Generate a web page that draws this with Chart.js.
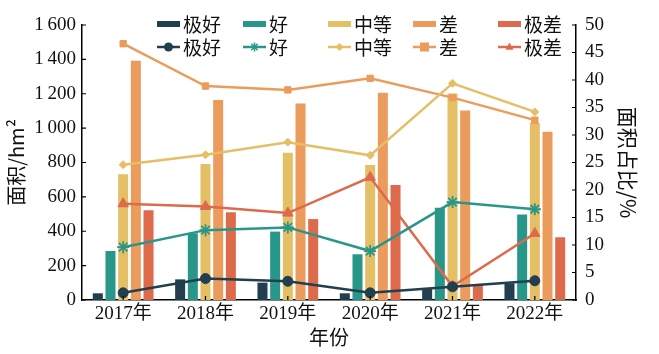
<!DOCTYPE html>
<html><head><meta charset="utf-8">
<script src="https://cdn.jsdelivr.net/npm/chart.js@4/dist/chart.umd.min.js"></script>
<style>html,body{margin:0;padding:0;background:#fff}#wrap{width:659px;height:354px}</style>
</head><body><div id="wrap"><canvas id="c" width="659" height="354"></canvas></div>
<script>
const years = ['2017年','2018年','2019年','2020年','2021年','2022年'];
const levelNames = ['极好','好','中等','差','极差'];
const areaJihao = [39,120,101,39,68,97];
const areaHao = [285,388,398,266,537,498];
const areaZhongdeng = [731,791,857,785,1202,1030];
const areaCha = [1392,1164,1144,1206,1102,979];
const areaJicha = [522,510,471,669,87,365];
const shareJihao = [1.3,3.9,3.4,1.3,2.4,3.5];
const shareHao = [9.6,12.7,13.2,8.9,17.8,16.5];
const shareZhongdeng = [24.6,26.4,28.7,26.3,39.4,34.2];
const shareCha = [46.6,38.9,38.2,40.3,36.8,32.7];
const shareJicha = [17.5,17.0,15.8,22.3,2.5,12.1];
const leftTicks = [0,200,400,600,800,1000,1200,1400,1600];
const rightTicks = [0,5,10,15,20,25,30,35,40,45,50];

const colors = ['#213f4f','#28978a','#e4bf66','#eb9c5c','#de6a4c'];
const areas = [areaJihao,areaHao,areaZhongdeng,areaCha,areaJicha];
const shares = [shareJihao,shareHao,shareZhongdeng,shareCha,shareJicha];
const pStyles = ['circle','star','rectRot','rect','triangle'];
const pRadius = [5,6,4,4.5,6];

const serif = '"Liberation Serif","Noto Sans CJK SC",serif';
const datasets = [];
areas.forEach((a,i)=>datasets.push({type:'bar',label:levelNames[i],data:a,backgroundColor:colors[i],yAxisID:'y',order:2,categoryPercentage:0.77,barPercentage:0.79}));
shares.forEach((s,i)=>datasets.push({type:'line',label:levelNames[i],data:s,borderColor:colors[i],backgroundColor:colors[i],pointBackgroundColor:colors[i],pointBorderColor:colors[i],borderWidth:2.5,pointStyle:pStyles[i],pointRadius:pRadius[i],pointBorderWidth:i===1?1.8:1,yAxisID:'y1',order:1,tension:0}));

function fmt(v){return String(v).replace(/\B(?=(\d{3})+$)/,'\u2009');}

const inwardTicks = {
  id:'inwardTicks',
  afterDraw(chart){
    const ctx=chart.ctx, a=chart.chartArea;
    ctx.save();ctx.strokeStyle='#000';ctx.lineWidth=1.2;
    const y=chart.scales.y, y1=chart.scales.y1, x=chart.scales.x;
    ctx.beginPath();
    leftTicks.forEach(v=>{const p=y.getPixelForValue(v);ctx.moveTo(a.left,p);ctx.lineTo(a.left+4,p);});
    rightTicks.forEach(v=>{const p=y1.getPixelForValue(v);ctx.moveTo(a.right,p);ctx.lineTo(a.right-4,p);});
    years.forEach((c,i)=>{const p=x.getPixelForValue(i);ctx.moveTo(p,a.bottom);ctx.lineTo(p,a.bottom-4);});
    ctx.stroke();ctx.restore();
  }
};

function drawMarker(ctx,style,x,y,r,color){
  ctx.save();ctx.fillStyle=color;ctx.strokeStyle=color;ctx.lineWidth=1.5;
  ctx.beginPath();
  if(style==='circle'){ctx.arc(x,y,r,0,Math.PI*2);ctx.fill();}
  else if(style==='rect'){ctx.fillRect(x-r,y-r,2*r,2*r);}
  else if(style==='rectRot'){ctx.moveTo(x,y-r);ctx.lineTo(x+r,y);ctx.lineTo(x,y+r);ctx.lineTo(x-r,y);ctx.closePath();ctx.fill();}
  else if(style==='triangle'){ctx.moveTo(x,y-r);ctx.lineTo(x+r*0.9,y+r*0.6);ctx.lineTo(x-r*0.9,y+r*0.6);ctx.closePath();ctx.fill();}
  else if(style==='star'){for(let k=0;k<4;k++){const t=k*Math.PI/4;ctx.moveTo(x-r*Math.cos(t),y-r*Math.sin(t));ctx.lineTo(x+r*Math.cos(t),y+r*Math.sin(t));}ctx.stroke();}
  ctx.restore();
}

const customLegend = {
  id:'customLegend',
  afterDraw(chart){
    const ctx=chart.ctx;
    const colX=[157,243,328,413,498];
    const row1=24, row2=47;
    ctx.save();
    ctx.font='19px "Noto Sans CJK SC",sans-serif';
    ctx.textBaseline='middle';ctx.fillStyle='#111';
    levelNames.forEach((n,i)=>{
      ctx.fillStyle=colors[i];
      ctx.fillRect(colX[i],row1-3,23,6);
      ctx.strokeStyle=colors[i];ctx.lineWidth=2.5;
      ctx.beginPath();ctx.moveTo(colX[i],row2);ctx.lineTo(colX[i]+23,row2);ctx.stroke();
      drawMarker(ctx,pStyles[i],colX[i]+11.5,row2,Math.min(pRadius[i],4.5),colors[i]);
      ctx.fillStyle='#111';
      ctx.fillText(n,colX[i]+26,row1+1);
      ctx.fillText(n,colX[i]+26,row2+1);
    });
    ctx.restore();
  }
};

new Chart(document.getElementById('c'),{
  data:{labels:years,datasets},
  options:{
    responsive:false,animation:false,
    layout:{padding:{top:25,left:0,right:0,bottom:0}},
    plugins:{legend:{display:false},tooltip:{enabled:false}},
    scales:{
      x:{
        grid:{display:false,drawTicks:false},
        border:{display:true,color:'#000',width:1.5},
        ticks:{font:{family:serif,size:19},color:'#111',padding:3,maxRotation:0},
        title:{display:true,text:'年份',font:{family:'"Noto Sans CJK SC",sans-serif',size:20},color:'#111',padding:{top:0,bottom:5}},
        afterFit(s){s.height=54;}
      },
      y:{
        position:'left',min:0,max:1600,
        afterBuildTicks(s){s.ticks=leftTicks.map(v=>({value:v}));},
        grid:{display:false,drawTicks:false},
        border:{display:true,color:'#000',width:1.5},
        ticks:{font:{family:serif,size:19},color:'#111',padding:6,callback:v=>fmt(v)},
        title:{display:true,text:'面积/hm²',font:{family:'"Noto Sans CJK SC",sans-serif',size:20},color:'#111',padding:{top:4,bottom:0}},
        afterFit(s){s.width=82;}
      },
      y1:{
        position:'right',min:0,max:50,
        afterBuildTicks(s){s.ticks=rightTicks.map(v=>({value:v}));},
        grid:{display:false,drawTicks:false},
        border:{display:true,color:'#000',width:1.5},
        ticks:{font:{family:serif,size:19},color:'#111',padding:9},
        title:{display:true,text:'面积占比/%',font:{family:'"Noto Sans CJK SC",sans-serif',size:21},color:'#111',padding:{top:18,bottom:0}},
        afterFit(s){s.width=83;}
      }
    }
  },
  plugins:[inwardTicks,customLegend]
});
</script></body></html>
